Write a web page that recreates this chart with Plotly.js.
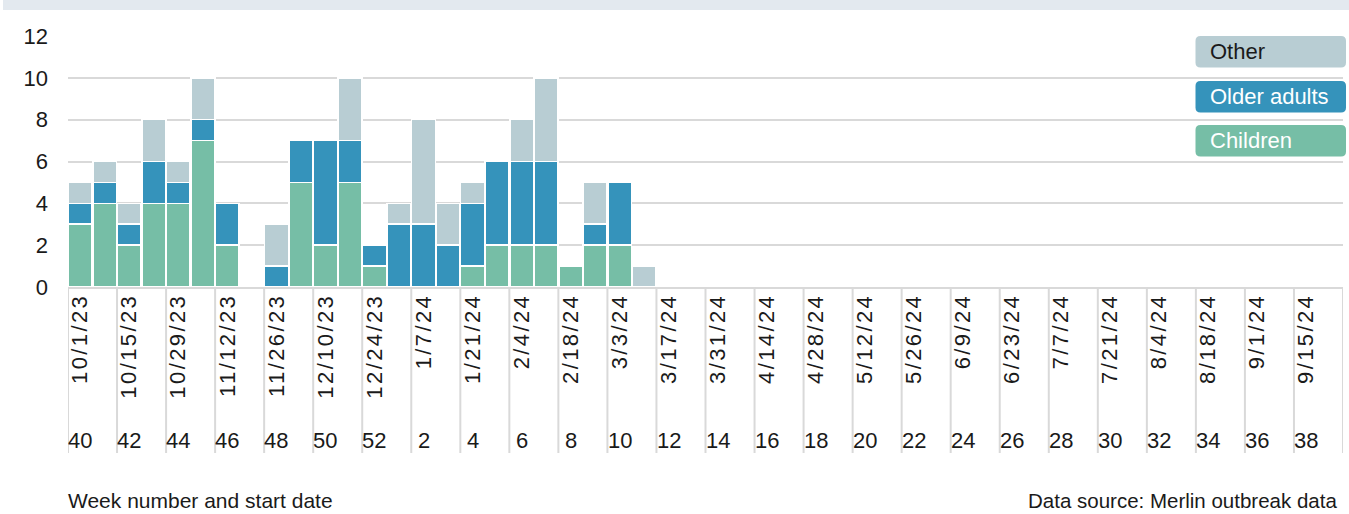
<!DOCTYPE html>
<html>
<head>
<meta charset="utf-8">
<script src="https://cdn.plot.ly/plotly-3.0.1.min.js"></script>
<style>
  html, body { margin: 0; padding: 0; background: #fff; }
  #chart { width: 1349px; height: 514px; }
  #chart .xtick text { letter-spacing: 2.4px; }
</style>
</head>
<body>
<div id="chart"></div>
<script>
// ---- data ----
const weeks = ["40","41","42","43","44","45","46","47","48","49","50","51","52",
  "1","2","3","4","5","6","7","8","9","10","11","12","13","14","15","16","17","18","19",
  "20","21","22","23","24","25","26","27","28","29","30","31","32","33","34","35","36","37","38","39"];
const startDates = ["10/1/23","10/8/23","10/15/23","10/22/23","10/29/23","11/5/23","11/12/23","11/19/23",
  "11/26/23","12/3/23","12/10/23","12/17/23","12/24/23","12/31/23","1/7/24","1/14/24","1/21/24","1/28/24",
  "2/4/24","2/11/24","2/18/24","2/25/24","3/3/24","3/10/24","3/17/24","3/24/24","3/31/24","4/7/24",
  "4/14/24","4/21/24","4/28/24","5/5/24","5/12/24","5/19/24","5/26/24","6/2/24","6/9/24","6/16/24",
  "6/23/24","6/30/24","7/7/24","7/14/24","7/21/24","7/28/24","8/4/24","8/11/24","8/18/24","8/25/24",
  "9/1/24","9/8/24","9/15/24","9/22/24"];
const children = [3,4,2,4,4,7,2,0,0,5,2,5,1, 0,0,0,1,2,2,2,1,2,2,0,
  0,0,0,0,0,0,0,0,0,0,0,0,0,0,0,0,0,0,0,0,0,0,0,0,0,0,0,0];
const olderAdults = [1,1,1,2,1,1,2,0,1,2,5,2,1, 3,3,2,3,4,4,4,0,1,3,0,
  0,0,0,0,0,0,0,0,0,0,0,0,0,0,0,0,0,0,0,0,0,0,0,0,0,0,0,0];
const other = [1,1,1,2,1,2,0,0,2,0,0,3,0, 1,5,2,1,0,2,4,0,2,0,1,
  0,0,0,0,0,0,0,0,0,0,0,0,0,0,0,0,0,0,0,0,0,0,0,0,0,0,0,0];
const seriesNames = ["Children", "Older adults", "Other"];
const yTicks = [0,2,4,6,8,10,12];
const xTitle = "Week number and start date";
const sourceNote = "Data source: Merlin outbreak data";

// ---- styles ----
const colors = ["#76bea6", "#3593bb", "#b8cdd3"];
const legendText = ["#ffffff", "#ffffff", "#1a1a1a"];
const FONT = "Liberation Sans, Arial, sans-serif";
const W = 1349, H = 514;
const M = {l: 68, r: 6, t: 36, b: 227};
const PW = W - M.l - M.r, PH = H - M.t - M.b;
const px2x = px => (px - M.l) / PW;
const py2y = py => (H - M.b - py) / PH;

const seriesValues = [children, olderAdults, other];
const traces = seriesValues.map((vals, i) => ({
  type: "bar",
  name: seriesNames[i],
  x: weeks,
  y: vals,
  marker: {color: colors[i], line: {color: "#ffffff", width: 1.6}},
  showlegend: false,
  hoverinfo: "x+y+name"
}));

const tickIdx = weeks.map((w, i) => i).filter(i => i % 2 === 0);
const tickVals = tickIdx.map(i => weeks[i]);
const tickText = tickIdx.map(i => startDates[i]);

const shapes = [];
const annotations = [];

// top band
shapes.push({type: "rect", xref: "paper", yref: "paper",
  x0: px2x(3), x1: px2x(1349), y0: py2y(10), y1: py2y(0),
  fillcolor: "#e3e9ef", line: {width: 0}, layer: "below"});

// separator lines at every second category boundary
for (let k = 0; k <= weeks.length; k += 2) {
  shapes.push({type: "line", xref: "x", yref: "paper",
    x0: k - 0.5, x1: k - 0.5, y0: 0, y1: py2y(453),
    line: {color: "#d9d9d9", width: 2}});
}

// week number labels
tickIdx.forEach(i => {
  annotations.push({xref: "x", yref: "paper", x: i, y: py2y(440),
    text: weeks[i], showarrow: false, xanchor: "center", yanchor: "middle",
    font: {family: FONT, size: 22, color: "#1a1a1a"}});
});

// custom legend (rounded boxes)
function roundRect(x0p, x1p, y0p, y1p, r) {
  const X = v => px2x(v), Y = v => py2y(v);
  return `M ${X(x0p + r)},${Y(y0p)} L ${X(x1p - r)},${Y(y0p)} Q ${X(x1p)},${Y(y0p)} ${X(x1p)},${Y(y0p + r)} ` +
    `L ${X(x1p)},${Y(y1p - r)} Q ${X(x1p)},${Y(y1p)} ${X(x1p - r)},${Y(y1p)} ` +
    `L ${X(x0p + r)},${Y(y1p)} Q ${X(x0p)},${Y(y1p)} ${X(x0p)},${Y(y1p - r)} ` +
    `L ${X(x0p)},${Y(y0p + r)} Q ${X(x0p)},${Y(y0p)} ${X(x0p + r)},${Y(y0p)} Z`;
}
const legendOrder = [2, 1, 0];
const boxTops = [36, 81, 125];
legendOrder.forEach((si, j) => {
  const top = boxTops[j], bot = top + 31.5;
  shapes.push({type: "path", xref: "paper", yref: "paper",
    path: roundRect(1195.5, 1346, top, bot, 5),
    fillcolor: colors[si], line: {width: 0}});
  annotations.push({xref: "paper", yref: "paper", x: px2x(1208), y: py2y((top + bot) / 2),
    text: seriesNames[si], showarrow: false, xanchor: "left", yanchor: "middle",
    font: {family: FONT, size: 22, color: legendText[si]}});
});

// footer texts
annotations.push({xref: "paper", yref: "paper", x: px2x(66), y: py2y(500),
  text: xTitle, showarrow: false, xanchor: "left", yanchor: "middle",
  font: {family: FONT, size: 21, color: "#1a1a1a"}});
annotations.push({xref: "paper", yref: "paper", x: px2x(1339), y: py2y(500),
  text: sourceNote, showarrow: false, xanchor: "right", yanchor: "middle",
  font: {family: FONT, size: 20.5, color: "#1a1a1a"}});

const layout = {
  width: W, height: H,
  margin: M,
  barmode: "stack",
  bargap: 0.03,
  paper_bgcolor: "#ffffff",
  plot_bgcolor: "#ffffff",
  font: {family: FONT, color: "#1a1a1a"},
  xaxis: {
    type: "category",
    categoryorder: "array",
    categoryarray: weeks,
    range: [-0.5, weeks.length - 0.5],
    tickmode: "array",
    tickvals: tickVals,
    ticktext: tickText,
    tickangle: -90,
    ticks: "",
    ticklabelstandoff: -4,
    showgrid: false,
    showline: true,
    linecolor: "#d9d9d9",
    linewidth: 2,
    tickfont: {family: FONT, size: 22, color: "#1a1a1a"},
    fixedrange: true
  },
  yaxis: {
    range: [0, 12],
    tickmode: "array",
    tickvals: yTicks,
    ticktext: yTicks.map(String),
    showgrid: true,
    gridcolor: "#d9d9d9",
    gridwidth: 2,
    zeroline: false,
    ticks: "",
    ticklabelstandoff: 19,
    tickfont: {family: FONT, size: 22, color: "#1a1a1a"},
    fixedrange: true
  },
  shapes: shapes,
  annotations: annotations
};

Plotly.newPlot("chart", traces, layout, {displayModeBar: false, staticPlot: true});
</script>
</body>
</html>
